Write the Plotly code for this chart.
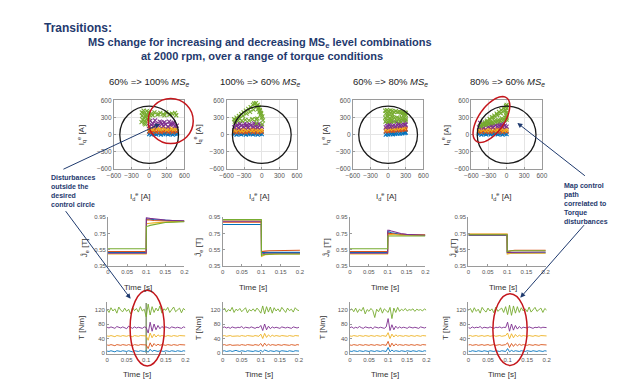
import math
import plotly.graph_objects as go

W, H = 628, 383
COLORS = ["#0072BD", "#D95319", "#EDB120", "#7E2F8E", "#77AC30"]
NAVY = "#1F3A6E"
RED = "#C4161C"
FONT = "Liberation Sans, Arial, sans-serif"

PANEL_TITLES = ["60% => 100% <i>MS<sub>e</sub></i>", "100% => 60% <i>MS<sub>e</sub></i>",
                "60% => 80% <i>MS<sub>e</sub></i>", "80% => 60% <i>MS<sub>e</sub></i>"]
CURRENT_TICKS = [-600, -300, 0, 300, 600]
FLUX_TICKS = [0.35, 0.55, 0.75, 0.95]
TORQUE_TICKS = [0, 40, 80, 120]
TIME_TICKS = [0, 0.05, 0.1, 0.15, 0.2]
TIME_TICK_TEXT = ["0", "0.05", "0.1", "0.15", "0.2"]
CIRCLE_RADIUS = 500

# ---------------- Top row: current trajectories (Id, Iq) ----------------
P1_ID = [
    [0, 40, 80, 120, 160, 200, 240, 280, 320, 360, 400, 440, 470, 20, 100, 180, 260, 340, 420],
    [0, 40, 80, 120, 160, 200, 240, 280, 320, 360, 400, 440, 470, 20, 100, 180, 260, 340, 420],
    [0, 30, 60, 100, 140, 180, 220, 260, 300, 340, 380, 420, 460],
    [0, 40, 80, 120, 160, 200, 240, 280, 320, 360, 400, 440, 470, 20, 100, 180, 260, 340, 420, 60, 220, 380],
    [-130, -110, -90, -70, -50, -30, -10, -120, -100, -80, -60, -40, -20, 0, -125, -95, -65, -35, -5,
     40, 90, 140, 190, 240, 290, 340, 390, 440, 460, 60, 160, 260, 360],
]
P1_IQ = [
    [10, 0, 15, 5, 20, 0, 10, 25, 5, 15, 0, 20, 10, 30, 25, 35, 30, 25, 35],
    [55, 45, 70, 50, 65, 45, 60, 75, 50, 65, 45, 70, 55, 85, 80, 90, 80, 85, 75],
    [100, 110, 95, 120, 105, 95, 115, 100, 90, 110, 100, 95, 105],
    [150, 170, 140, 190, 160, 210, 150, 180, 140, 170, 200, 150, 160, 240, 250, 230, 220, 230, 210, 200, 190, 180],
    [220, 260, 300, 240, 350, 280, 400, 330, 380, 200, 310, 410, 260, 360, 390, 420, 180, 340, 300,
     370, 390, 350, 380, 360, 390, 350, 370, 380, 340, 340, 360, 340, 355],
]
P2_ID = [
    [-470, -430, -390, -350, -310, -270, -230, -190, -150, -110, -70, -30, 0, -450, -370, -290, -210, -130, -50],
    [-470, -430, -390, -350, -310, -270, -230, -190, -150, -110, -70, -30, 0, -450, -370, -290, -210, -130, -50],
    [-460, -400, -340, -280, -220, -160, -100, -40, 0],
    [-470, -430, -390, -350, -310, -270, -230, -190, -150, -110, -70, -30, 0, -450, -370, -290, -210, -130, -50,
     -410, -250, -90],
    [-470, -430, -390, -350, -310, -270, -230, -190, -150, -130, -460, -400, -340, -280, -220, -160,
     -440, -380, -320, -260, -200, -140, -100, -80, -60, -40, -20, 0, 20, -90, -70, -50, -30, -10, 10,
     -95, -55, -15, -75, -35, 5],
]
P2_IQ = [
    [10, 0, 15, 5, 20, 0, 10, 25, 5, 15, 0, 20, 10, 30, 25, 30, 20, 25, 30],
    [50, 40, 65, 45, 60, 40, 55, 70, 45, 60, 40, 65, 50, 85, 80, 90, 80, 85, 90],
    [75, 85, 70, 80, 90, 75, 85, 70, 80],
    [130, 150, 120, 160, 135, 155, 125, 165, 140, 150, 130, 160, 140, 200, 190, 195, 185, 200, 190, 175, 170, 180],
    [270, 300, 330, 360, 390, 420, 450, 480, 520, 545, 230, 250, 240, 260, 250, 270,
     255, 290, 330, 370, 400, 440, 550, 500, 450, 400, 350, 300, 250, 200, 520, 470, 420, 370, 320, 270,
     480, 380, 280, 430, 180],
]
P3_ID = [
    [-40, 0, 40, 80, 120, 160, 200, 240, 280, 300, -20, 60, 140, 220, 290],
    [-40, 0, 40, 80, 120, 160, 200, 240, 280, 300, -20, 60, 140, 220, 290],
    [-30, 30, 90, 150, 210, 270],
    [-40, 0, 40, 80, 120, 160, 200, 240, 280, 300, -20, 60, 140, 220, 290, 20, 180],
    [-50, -20, 10, 40, 70, 100, 130, 160, 190, 220, 250, 280, 300, -40, 0, 40, 80, 230, 270, 300,
     -50, -10, 30, 70, 110, 150, 190, 230, 270, 300, -30, 20, 60, -45, 0, 50, 100, 150, 200, 250, 300],
]
P3_IQ = [
    [0, 5, 10, 8, 15, 20, 18, 25, 30, 35, 25, 30, 38, 45, 50],
    [60, 65, 70, 68, 75, 80, 78, 85, 90, 95, 90, 95, 103, 110, 115],
    [95, 100, 105, 110, 115, 120],
    [130, 140, 135, 150, 145, 160, 155, 165, 170, 175, 200, 210, 215, 225, 230, 180, 190],
    [420, 430, 410, 425, 415, 400, 410, 395, 405, 390, 395, 385, 380, 370, 360, 365, 355, 360, 350, 345,
     300, 310, 290, 305, 295, 300, 285, 295, 290, 280, 250, 240, 260, 230, 225, 235, 230, 240, 235, 245, 250],
]
P4_ID = [
    [-470, -430, -390, -350, -310, -270, -230, -190, -150, -110, -70, -30, 0, -450, -370, -290, -210, -130, -50],
    [-470, -430, -390, -350, -310, -270, -230, -190, -150, -110, -70, -30, 0, -450, -370, -290, -210, -130, -50],
    [-460, -400, -340, -280, -220, -160, -100, -40, 0],
    [-470, -430, -390, -350, -310, -270, -230, -190, -150, -110, -70, -30, 0, -450, -370, -290, -210, -130, -50,
     -410, -250, -90],
    [-450, -410, -370, -330, -290, -250, -210, -170, -130, -90, -50, -10,
     -430, -390, -350, -310, -270, -230, -190, -150, -110, -70, -30, 0,
     0, -10, 0, -15, 0, -5, 0, -400, -340, -280, -220, -160, -100, -40,
     -380, -320, -260, -200, -140, -80, -20],
]
P4_IQ = [
    [10, 0, 15, 5, 20, 5, 10, 25, 5, 15, 0, 20, 10, 30, 25, 35, 30, 25, 35],
    [55, 45, 70, 50, 65, 45, 60, 75, 50, 65, 45, 70, 55, 90, 85, 95, 85, 90, 95],
    [80, 90, 75, 85, 95, 80, 90, 75, 85],
    [130, 145, 125, 160, 140, 155, 130, 165, 145, 150, 135, 160, 140, 205, 195, 200, 190, 205, 195, 180, 175, 185],
    [150, 185, 215, 245, 275, 305, 335, 370, 400, 430, 465, 500,
     160, 170, 180, 190, 200, 210, 220, 230, 240, 250, 260, 265,
     300, 340, 380, 420, 460, 490, 520, 190, 230, 265, 300, 340, 375, 410,
     175, 195, 215, 240, 260, 285, 300],
]

# ---------------- Middle row: flux estimate vs time ----------------
JT = [0, 0.1, 0.1005, 0.104, 0.11, 0.12, 0.135, 0.15, 0.17, 0.2]
J_P1 = [[0.52, 0.52, 0.93, 0.93, 0.925, 0.92, 0.915, 0.91, 0.905, 0.90],
        [0.53, 0.53, 0.92, 0.92, 0.915, 0.91, 0.905, 0.905, 0.90, 0.90],
        [0.50, 0.50, 0.87, 0.87, 0.875, 0.88, 0.885, 0.89, 0.895, 0.90],
        [0.51, 0.51, 0.945, 0.94, 0.935, 0.93, 0.92, 0.915, 0.91, 0.905],
        [0.565, 0.565, 0.84, 0.84, 0.85, 0.86, 0.875, 0.885, 0.89, 0.895]]
J_P2 = [[0.86, 0.86, 0.52, 0.52, 0.52, 0.52, 0.52, 0.52, 0.52, 0.52],
        [0.89, 0.89, 0.53, 0.53, 0.535, 0.54, 0.54, 0.545, 0.545, 0.545],
        [0.915, 0.915, 0.47, 0.48, 0.49, 0.495, 0.50, 0.50, 0.50, 0.50],
        [0.90, 0.90, 0.50, 0.505, 0.51, 0.51, 0.51, 0.51, 0.51, 0.51],
        [0.92, 0.92, 0.48, 0.49, 0.495, 0.50, 0.50, 0.50, 0.50, 0.50]]
J_P3 = [[0.52, 0.52, 0.77, 0.77, 0.76, 0.75, 0.74, 0.735, 0.73, 0.73],
        [0.53, 0.53, 0.755, 0.755, 0.75, 0.745, 0.74, 0.735, 0.735, 0.735],
        [0.50, 0.50, 0.74, 0.74, 0.735, 0.735, 0.73, 0.73, 0.73, 0.73],
        [0.51, 0.51, 0.79, 0.79, 0.78, 0.765, 0.75, 0.74, 0.735, 0.73],
        [0.565, 0.565, 0.72, 0.72, 0.72, 0.72, 0.72, 0.72, 0.72, 0.72]]
J_P4 = [[0.73, 0.73, 0.51, 0.51, 0.515, 0.515, 0.515, 0.515, 0.515, 0.515],
        [0.74, 0.74, 0.53, 0.535, 0.54, 0.545, 0.545, 0.545, 0.545, 0.545],
        [0.745, 0.745, 0.50, 0.505, 0.51, 0.51, 0.51, 0.51, 0.51, 0.51],
        [0.73, 0.73, 0.52, 0.52, 0.525, 0.525, 0.525, 0.525, 0.525, 0.525],
        [0.735, 0.735, 0.53, 0.535, 0.54, 0.54, 0.54, 0.54, 0.54, 0.54]]

# ---------------- Bottom row: torque vs time ----------------
TQ_T = [0, 0.005, 0.01, 0.015, 0.02, 0.025, 0.03, 0.035, 0.04, 0.045, 0.05, 0.055, 0.06, 0.065, 0.07,
        0.075, 0.08, 0.085, 0.09, 0.095, 0.1, 0.105, 0.11, 0.115, 0.12, 0.125, 0.13, 0.135, 0.14, 0.145,
        0.15, 0.155, 0.16, 0.165, 0.17, 0.175, 0.18, 0.185, 0.19, 0.195, 0.2]
TQ_P1 = [
    [5, 4, 6, 5, 3, 6, 5, 4, 6, 5, 4, 6, 5, 3, 6, 5, 4, 6, 5, 4, 6, 2, 10, 4, 7, 5, 4, 6, 5, 4, 6, 5, 4, 6, 5, 4, 6, 5, 4, 6, 5],
    [22, 21, 23, 22, 20, 23, 22, 21, 23, 22, 21, 23, 22, 20, 23, 22, 21, 23, 22, 21, 22, 12, 28, 17, 26, 20, 24, 21, 23, 22, 21, 23, 22, 21, 23, 22, 21, 23, 22, 21, 22],
    [47, 46, 48, 47, 45, 48, 47, 46, 48, 47, 46, 48, 47, 45, 48, 47, 46, 48, 47, 46, 47, 35, 55, 42, 52, 44, 50, 46, 48, 47, 46, 48, 47, 46, 48, 47, 46, 48, 47, 46, 47],
    [71, 69, 72, 70, 68, 73, 70, 69, 72, 70, 67, 74, 70, 68, 72, 69, 71, 70, 68, 72, 70, 55, 85, 60, 80, 64, 76, 67, 73, 69, 72, 70, 68, 72, 70, 69, 71, 70, 68, 72, 70],
    [120, 112, 125, 116, 122, 110, 127, 118, 114, 124, 115, 121, 108, 126, 117, 123, 113, 128, 116, 121, 100, 135, 105, 128, 112, 124, 116, 130, 110, 122, 118, 126, 112, 121, 127, 114, 120, 124, 111, 123, 118],
]
TQ_P2 = [
    [5, 6, 4, 5, 6, 4, 5, 7, 5, 4, 6, 5, 4, 6, 5, 5, 4, 6, 5, 4, 7, 3, 8, 5, 4, 6, 5, 4, 6, 5, 4, 6, 5, 5, 4, 6, 5, 4, 6, 5, 5],
    [22, 23, 21, 22, 23, 21, 22, 23, 22, 21, 23, 22, 21, 23, 22, 22, 21, 23, 22, 21, 26, 18, 27, 20, 24, 21, 23, 22, 21, 23, 22, 21, 23, 22, 22, 21, 23, 22, 21, 23, 22],
    [47, 48, 46, 47, 48, 46, 47, 48, 47, 46, 48, 47, 46, 48, 47, 47, 46, 48, 47, 46, 52, 40, 54, 43, 50, 45, 49, 46, 48, 47, 46, 48, 47, 47, 46, 48, 47, 46, 48, 47, 47],
    [70, 72, 69, 71, 68, 72, 70, 69, 71, 70, 73, 68, 71, 70, 69, 72, 70, 68, 71, 70, 76, 62, 80, 64, 74, 67, 72, 69, 71, 70, 68, 72, 70, 69, 71, 70, 68, 72, 70, 69, 71],
    [118, 124, 113, 120, 116, 126, 112, 121, 117, 123, 114, 119, 125, 111, 120, 116, 122, 115, 124, 118, 110, 130, 108, 128, 113, 127, 110, 125, 116, 122, 114, 126, 118, 112, 124, 117, 121, 113, 125, 119, 117],
]
TQ_P3 = [
    [5, 4, 6, 5, 4, 6, 5, 4, 6, 5, 4, 6, 5, 4, 6, 5, 4, 6, 5, 4, 15, 3, 8, 4, 6, 5, 4, 6, 5, 4, 6, 5, 4, 6, 5, 4, 6, 5, 4, 6, 5],
    [22, 21, 23, 22, 21, 23, 22, 21, 23, 22, 21, 23, 22, 21, 23, 22, 21, 23, 22, 21, 32, 16, 27, 19, 25, 21, 23, 22, 21, 23, 22, 21, 23, 22, 21, 23, 22, 21, 23, 22, 22],
    [47, 46, 48, 47, 46, 48, 47, 46, 48, 47, 46, 48, 47, 46, 48, 47, 46, 48, 47, 46, 56, 40, 52, 44, 50, 46, 48, 47, 46, 48, 47, 46, 48, 47, 46, 48, 47, 46, 48, 47, 47],
    [70, 72, 68, 71, 69, 73, 70, 68, 72, 70, 69, 71, 67, 72, 70, 69, 71, 70, 68, 72, 95, 62, 78, 64, 74, 68, 72, 69, 71, 70, 68, 72, 70, 69, 71, 70, 68, 72, 70, 69, 71],
    [118, 122, 114, 124, 112, 121, 116, 126, 108, 120, 115, 123, 117, 98, 121, 114, 125, 110, 122, 117, 112, 126, 95, 124, 112, 126, 115, 121, 117, 123, 116, 120, 118, 122, 115, 121, 118, 120, 116, 122, 118],
]
TQ_P4 = [
    [5, 4, 6, 5, 4, 6, 5, 4, 6, 5, 4, 6, 5, 4, 6, 5, 4, 6, 5, 4, 12, 3, 7, 4, 6, 5, 4, 6, 5, 4, 6, 5, 4, 6, 5, 4, 6, 5, 4, 6, 5],
    [22, 23, 21, 22, 23, 21, 22, 23, 21, 22, 23, 21, 22, 23, 21, 22, 23, 21, 22, 23, 28, 15, 26, 18, 25, 20, 24, 21, 23, 22, 21, 23, 22, 21, 23, 22, 21, 23, 22, 21, 22],
    [47, 48, 46, 47, 48, 46, 47, 48, 46, 47, 48, 46, 47, 48, 46, 47, 48, 46, 47, 48, 55, 39, 53, 42, 51, 45, 49, 46, 48, 47, 46, 48, 47, 46, 48, 47, 46, 48, 47, 46, 47],
    [70, 68, 72, 69, 71, 70, 73, 68, 71, 70, 69, 72, 70, 68, 71, 70, 72, 69, 71, 70, 85, 60, 80, 63, 76, 66, 73, 68, 71, 70, 69, 72, 70, 68, 71, 70, 72, 69, 71, 70, 70],
    [117, 123, 112, 125, 115, 121, 110, 126, 118, 113, 124, 116, 122, 111, 127, 115, 120, 124, 112, 128, 106, 132, 104, 130, 110, 128, 112, 125, 116, 122, 114, 127, 113, 121, 126, 115, 120, 124, 112, 123, 118],
]
SPIKE_T = [0.1, 0.1]
SPIKE_Y = [0, 138]

TOP_ID = [P1_ID, P2_ID, P3_ID, P4_ID]
TOP_IQ = [P1_IQ, P2_IQ, P3_IQ, P4_IQ]
MID_J = [J_P1, J_P2, J_P3, J_P4]
BOT_TQ = [TQ_P1, TQ_P2, TQ_P3, TQ_P4]

# ---------------- Layout geometry (pixels) ----------------
TOP_X = [(101, 173), (216, 288), (345, 417), (466, 538)]
TOP_Y = (90, 160)
MID_X = [(95, 173), (212, 291), (342, 419), (463, 542)]
MID_Y = (209, 259)
BOT_X = [(94, 174), (212, 290), (342, 420), (463, 543)]
BOT_Y = (295, 348)


def fx(p):
    return p / W


def fy(p):
    return 1 - p / H


fig = go.Figure()
layout = dict(width=W, height=H, margin=dict(l=0, r=0, t=0, b=0),
              paper_bgcolor="white", plot_bgcolor="white", showlegend=False,
              font=dict(family=FONT, color="#333", size=8))

tickfont = dict(family=FONT, size=6, color="#555")


def axname(k, a):
    return f"{a}axis" if k == 1 else f"{a}axis{k}"


def ref(k, a):
    return a if k == 1 else f"{a}{k}"


for row in range(3):
    for col in range(4):
        k = row * 4 + col + 1
        if row == 0:
            xd, yd = TOP_X[col], TOP_Y
        elif row == 1:
            xd, yd = MID_X[col], MID_Y
        else:
            xd, yd = BOT_X[col], BOT_Y
        xa = dict(domain=[fx(xd[0]), fx(xd[1])], anchor=ref(k, "y"), showline=True,
                  linecolor="#9a9a9a", linewidth=1, ticks="inside", ticklen=2, tickcolor="#9a9a9a",
                  zeroline=False, tickfont=tickfont, tickangle=0)
        ya = dict(domain=[fy(yd[1]), fy(yd[0])], anchor=ref(k, "x"), showline=True,
                  linecolor="#9a9a9a", linewidth=1, ticks="inside", ticklen=2, tickcolor="#9a9a9a",
                  zeroline=False, tickfont=tickfont)
        if row == 0:
            xa.update(range=[-600, 600], tickvals=CURRENT_TICKS, mirror=True, showgrid=True,
                      gridcolor="#e4e4e4", tickfont=dict(family=FONT, size=6.5, color="#555"))
            ya.update(range=[-600, 600], tickvals=CURRENT_TICKS, mirror=True, showgrid=True,
                      gridcolor="#e4e4e4", tickfont=dict(family=FONT, size=6.5, color="#555"))
        elif row == 1:
            xa.update(range=[0, 0.2], tickvals=TIME_TICKS, ticktext=TIME_TICK_TEXT, showgrid=False)
            ya.update(range=[0.35, 0.95], tickvals=FLUX_TICKS, showgrid=False)
        else:
            xa.update(range=[0, 0.2], tickvals=TIME_TICKS, ticktext=TIME_TICK_TEXT, showgrid=False)
            ya.update(range=[-2, 142], tickvals=TORQUE_TICKS, showgrid=False)
        layout[axname(k, "x")] = xa
        layout[axname(k, "y")] = ya

# top row traces
for col in range(4):
    k = col + 1
    for s in range(5):
        fig.add_trace(go.Scatter(
            x=TOP_ID[col][s], y=TOP_IQ[col][s], mode="markers",
            marker=dict(symbol="x-thin", size=4, color=COLORS[s], line=dict(width=1.1, color=COLORS[s])),
            xaxis=ref(k, "x"), yaxis=ref(k, "y"), hoverinfo="skip"))

# middle row traces
for col in range(4):
    k = 4 + col + 1
    for s in range(5):
        fig.add_trace(go.Scatter(
            x=JT, y=MID_J[col][s], mode="lines", line=dict(color=COLORS[s], width=1.1),
            xaxis=ref(k, "x"), yaxis=ref(k, "y"), hoverinfo="skip"))

# bottom row traces
for col in range(4):
    k = 8 + col + 1
    if col == 0:
        fig.add_trace(go.Scatter(x=SPIKE_T, y=SPIKE_Y, mode="lines",
                                 line=dict(color="#8c9c78", width=1.6),
                                 xaxis=ref(k, "x"), yaxis=ref(k, "y"), hoverinfo="skip"))
    for s in range(5):
        fig.add_trace(go.Scatter(
            x=TQ_T, y=BOT_TQ[col][s], mode="lines", line=dict(color=COLORS[s], width=0.9),
            xaxis=ref(k, "x"), yaxis=ref(k, "y"), hoverinfo="skip"))

shapes = []
# control circles
for col in range(4):
    k = col + 1
    shapes.append(dict(type="circle", xref=ref(k, "x"), yref=ref(k, "y"),
                       x0=-CIRCLE_RADIUS, y0=-CIRCLE_RADIUS, x1=CIRCLE_RADIUS, y1=CIRCLE_RADIUS,
                       line=dict(color="#1a1a1a", width=1.3)))


def ellipse(x0, y0, x1, y1):
    return dict(type="circle", xref="paper", yref="paper", x0=fx(x0), x1=fx(x1), y0=fy(y1), y1=fy(y0),
                line=dict(color=RED, width=1.5))


shapes.append(ellipse(136, 88, 182, 134))
shapes.append(ellipse(117.5, 283.5, 152.5, 360.5))
shapes.append(ellipse(488, 287, 523, 360))

# tilted ellipse (top right panel)
cx, cy, a, b, th = 486.5, 109.5, 27, 13, math.radians(55)
pts = []
for i in range(61):
    t = 2 * math.pi * i / 60
    px = cx + a * math.cos(th) * math.cos(t) - b * math.sin(th) * math.sin(t)
    py = cy - (a * math.sin(th) * math.cos(t) + b * math.cos(th) * math.sin(t))
    pts.append((fx(px), fy(py)))
path = "M " + " L ".join(f"{x:.5f},{y:.5f}" for x, y in pts) + " Z"
shapes.append(dict(type="path", xref="paper", yref="paper", path=path, line=dict(color=RED, width=1.5)))
layout["shapes"] = shapes

ann = []


def text(x, y, s, size=9, color="#333", xanchor="center", yanchor="middle", angle=0, align="center"):
    ann.append(dict(x=fx(x), y=fy(y), xref="paper", yref="paper", text=s, showarrow=False,
                    font=dict(family=FONT, size=size, color=color), xanchor=xanchor, yanchor=yanchor,
                    textangle=angle, align=align))


# titles
text(28, 16, "<b>Transitions:</b>", size=12, color=NAVY, xanchor="left")
text(250, 32, "<b>MS change for increasing and decreasing MS<sub>e</sub> level combinations</b>", size=11, color=NAVY)
text(252, 45, "<b>at 2000 rpm, over a range of torque conditions</b>", size=11, color=NAVY)

# column headers
for cxp, t in zip([137, 251, 383, 503], PANEL_TITLES):
    text(cxp, 71, t, size=9.5, color="#222")

# axis labels
for xp in [68, 187, 317, 440]:
    text(xp, 125, "I<sub>q</sub><sup>e</sup> [A]", size=8, angle=-90)
for xp in [128, 250, 379, 497]:
    text(xp, 188, "I<sub>d</sub><sup>e</sup> [A]", size=8)
for xp in [71, 188, 318, 448]:
    text(xp, 240, "Ĵ<sub>e</sub> [T]", size=8, angle=-90)
for xp in [126, 243, 378, 498]:
    text(xp, 281, "Time [s]", size=8)
for xp in [68, 187, 314, 439]:
    text(xp, 322, "T [Nm]", size=8, angle=-90)
for xp in [125, 249, 378, 497]:
    text(xp, 369, "Time [s]", size=8)

# callouts
text(35, 163, "<b>Disturbances<br>outside the<br>desired<br>control circle</b>", size=7, color=NAVY,
     xanchor="left", yanchor="top", align="left")
text(559, 171, "<b>Map control<br>path<br>correlated to<br>Torque<br>disturbances</b>", size=7, color=NAVY,
     xanchor="left", yanchor="top", align="left")


def arrow(hx, hy, tx, ty):
    ann.append(dict(x=fx(hx), y=fy(hy), xref="paper", yref="paper", text="", showarrow=True,
                    ax=tx - hx, ay=ty - hy, arrowhead=2, arrowsize=1, arrowwidth=1, arrowcolor=NAVY))


arrow(148, 114, 50, 160)
arrow(118, 292, 52, 203)
arrow(513, 113, 582, 167)
arrow(516, 291, 581, 217)

layout["annotations"] = ann
fig.update_layout(**layout)
fig.write_html("out.html")
